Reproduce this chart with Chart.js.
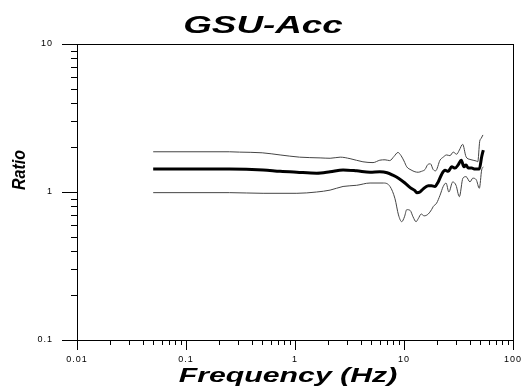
<!DOCTYPE html>
<html><head><meta charset="utf-8">
<script src="https://cdn.jsdelivr.net/npm/chart.js@4"></script>
<style>html,body{margin:0;padding:0;background:#fff}#w{width:526px;height:387px;position:relative}</style>
</head><body><div id="w"><canvas id="c"></canvas></div>
<script>
const titleText = 'GSU-Acc';
const xTitleText = 'Frequency (Hz)';
const yTitleText = 'Ratio';
const xTickLabels = ['0.01', '0.1', '1', '10', '100'];
const yTickLabels = ['0.1', '1', '10'];

const meanFreq = [0.05,0.25,0.51,0.73,1.04,1.58,2.1,2.76,3.68,4.88,6.0,7.0,7.9,8.9,10.2,11.4,12.6,13.1,14.0,15.0,16.7,17.9,19.2,20.6,22.2,23.8,25.5,27.4,29.4,31.5,33.5,35.5,37.1,38.9,41.8,44.8,49.1,51.6,53.4];
const meanRatio = [1.43,1.43,1.41,1.38,1.36,1.34,1.37,1.41,1.39,1.36,1.37,1.35,1.30,1.24,1.15,1.07,1.02,0.99,1.00,1.05,1.10,1.10,1.09,1.17,1.32,1.40,1.38,1.48,1.45,1.53,1.64,1.48,1.52,1.45,1.45,1.43,1.43,1.73,1.92];

const upperFreq = [0.05,0.25,0.31,0.5,0.73,1.1,1.7,2.1,2.6,3.2,4.2,5.2,6.0,6.7,7.4,8.1,8.8,9.4,10.0,10.6,11.6,12.6,13.5,14.5,15.6,16.5,17.5,18.5,19.5,21.4,22.9,24.6,26.4,28.3,30.4,32.2,34.5,37.1,40.3,46,47.5,49.5,51,53];
const upperRatio = [1.87,1.87,1.86,1.84,1.78,1.72,1.70,1.69,1.72,1.68,1.60,1.58,1.64,1.65,1.63,1.74,1.85,1.76,1.62,1.48,1.41,1.37,1.36,1.38,1.42,1.53,1.55,1.42,1.39,1.64,1.72,1.78,1.76,1.86,1.80,1.92,2.10,1.73,1.66,1.62,1.60,2.20,2.30,2.43];

const lowerFreq = [0.05,0.25,0.51,1.04,1.58,2.1,2.76,3.68,4.88,6.5,7.44,8.27,8.9,9.53,10.1,10.6,11.4,12.1,12.9,13.5,14.4,15.3,16.7,17.9,18.6,19.9,21.4,22.9,24.3,25.8,28.0,30.0,32.2,34.7,37.1,40.3,42.8,46.0,49.1,51.6,53.4];
const lowerRatio = [0.99,0.99,0.98,0.98,1.00,1.03,1.09,1.11,1.15,1.15,1.09,0.90,0.70,0.63,0.68,0.76,0.75,0.68,0.63,0.66,0.71,0.69,0.71,0.76,0.80,0.84,0.95,1.09,1.15,1.00,1.17,1.11,0.93,1.24,1.27,1.17,1.24,1.21,1.06,1.41,1.48];

const toPts = (fs, rs) => fs.map((f, i) => ({x: f, y: rs[i]}));
const FONT = 'Arial, "Liberation Sans", sans-serif';

const minorTicks = {
  id: 'minorTicks',
  beforeDraw(chart) { chart.ctx.letterSpacing = '1px'; },
  afterDraw(chart) {
    const ctx = chart.ctx, a = chart.chartArea;
    const xs = chart.scales.x, ys = chart.scales.y;
    ctx.save();
    ctx.letterSpacing = '0px';
    ctx.strokeStyle = '#000';
    ctx.lineWidth = 1;
    ctx.beginPath();
    xTickLabels.slice(0, -1).forEach(l => {
      const d = parseFloat(l);
      for (let k = 2; k <= 9; k++) {
        const px = Math.round(xs.getPixelForValue(k * d)) + 0.5;
        ctx.moveTo(px, Math.round(a.bottom)); ctx.lineTo(px, Math.round(a.bottom) + 5);
      }
    });
    yTickLabels.slice(0, -1).forEach(l => {
      const d = parseFloat(l);
      for (let k = 2; k <= 9; k++) {
        const py = Math.round(ys.getPixelForValue(k * d)) + 0.5;
        ctx.moveTo(Math.round(a.left) - 6, py); ctx.lineTo(Math.round(a.left), py);
      }
    });
    ctx.stroke();
    ctx.strokeRect(Math.round(a.left) + 0.5, Math.round(a.top) + 0.5, Math.round(a.right) - Math.round(a.left), Math.round(a.bottom) - Math.round(a.top));
    ctx.fillStyle = '#000';
    ctx.textAlign = 'center';
    ctx.textBaseline = 'alphabetic';
    // title
    ctx.save();
    ctx.translate(263, 33);
    ctx.scale(1.6, 1);
    ctx.font = 'italic bold 23px ' + FONT;
    ctx.fillText(titleText, 0, 0);
    ctx.restore();
    // x title
    ctx.save();
    ctx.translate(288, 382);
    ctx.scale(1.44, 1);
    ctx.font = 'italic bold 21px ' + FONT;
    ctx.fillText(xTitleText, 0, 0);
    ctx.restore();
    // y title
    ctx.save();
    ctx.translate(25, 170);
    ctx.scale(1.15, 1);
    ctx.rotate(-Math.PI / 2);
    ctx.font = 'italic bold 16px ' + FONT;
    ctx.fillText(yTitleText, 0, 0);
    ctx.restore();
    ctx.restore();
  }
};

new Chart(document.getElementById('c'), {
  type: 'scatter',
  data: {
    datasets: [
      {label: 'Upper', data: toPts(upperFreq, upperRatio), borderColor: '#444', borderWidth: 1},
      {label: 'Lower', data: toPts(lowerFreq, lowerRatio), borderColor: '#444', borderWidth: 1},
      {label: 'Mean', data: toPts(meanFreq, meanRatio), borderColor: '#000', borderWidth: 3}
    ].map(d => Object.assign(d, {showLine: true, pointRadius: 0, cubicInterpolationMode: 'monotone', fill: false}))
  },
  options: {
    responsive: true,
    maintainAspectRatio: false,
    animation: false,
    events: [],
    layout: {padding: {top: 44, right: 13, left: 0, bottom: 0}},
    plugins: {legend: {display: false}, tooltip: {enabled: false}, title: {display: false}},
    scales: {
      x: {
        type: 'logarithmic', min: 0.01, max: 100,
        afterBuildTicks: s => { s.ticks = xTickLabels.map(v => ({value: parseFloat(v)})); },
        afterFit: s => { s.height = 47; },
        ticks: {
          autoSkip: false, maxRotation: 0, padding: 4, color: '#000',
          font: {family: FONT, size: 9},
          callback: v => xTickLabels.find(l => parseFloat(l) === v) || ''
        },
        grid: {drawOnChartArea: false, drawTicks: true, tickLength: 10, tickColor: '#000', color: '#000'},
        border: {display: true, color: '#000', width: 1}
      },
      y: {
        type: 'logarithmic', min: 0.1, max: 10,
        afterBuildTicks: s => { s.ticks = yTickLabels.map(v => ({value: parseFloat(v)})); },
        afterFit: s => { s.width = 77; },
        ticks: {
          autoSkip: false, padding: 9, color: '#000',
          font: {family: FONT, size: 9},
          callback: v => yTickLabels.find(l => parseFloat(l) === v) || ''
        },
        grid: {drawOnChartArea: false, drawTicks: true, tickLength: 15, tickColor: '#000', color: '#000'},
        border: {display: true, color: '#000', width: 1}
      }
    }
  },
  plugins: [minorTicks]
});
</script>
</body></html>
